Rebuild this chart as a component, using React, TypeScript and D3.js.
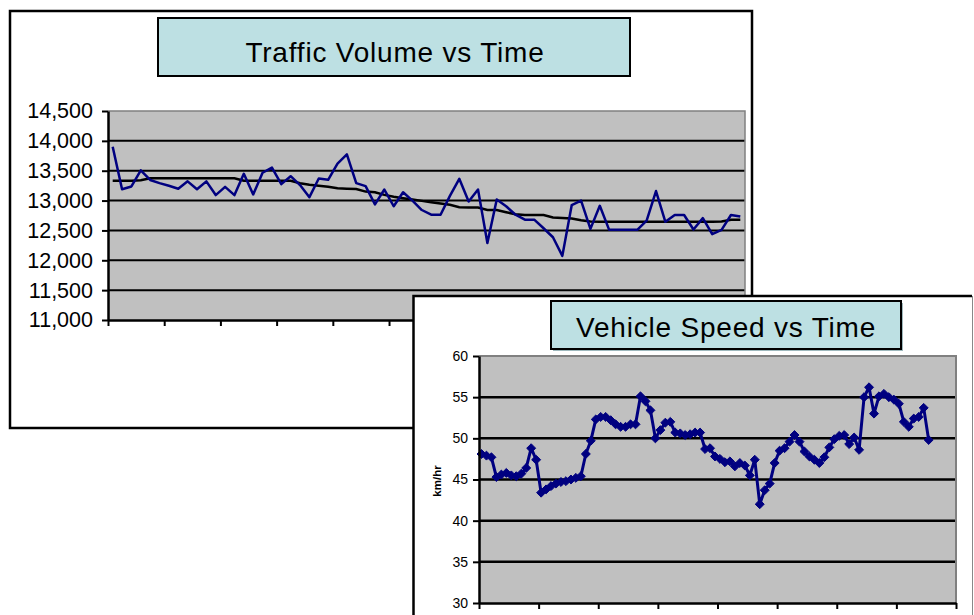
import React, { useEffect, useRef } from 'react';
import * as d3 from 'd3';

// traffic volume chart
const volumeTitle = 'Traffic Volume vs Time';
const volumeTicks = [11000, 11500, 12000, 12500, 13000, 13500, 14000, 14500];
const volumeValues = [
  13900, 13190, 13236, 13506, 13345, 13293, 13247, 13198, 13322, 13190,
  13322, 13092, 13230, 13092, 13448, 13103, 13466, 13552, 13276, 13408,
  13259, 13057, 13370, 13348, 13619, 13773, 13292, 13242, 12937, 13185,
  12905, 13140, 13000, 12842, 12763, 12763, 13079, 13365, 12984, 13185,
  12290, 13017, 12905, 12763, 12680, 12680, 12536, 12386, 12074, 12923,
  13000, 12526, 12912, 12510, 12510, 12510, 12510, 12665, 13160, 12644,
  12758, 12758, 12515, 12706, 12438, 12510, 12758, 12732,
];
const volumeTrend = [
  13333, 13333, 13333, 13340, 13374, 13374, 13374, 13374, 13374, 13374,
  13374, 13374, 13374, 13374, 13333, 13333, 13333, 13333, 13333, 13333,
  13290, 13265, 13250, 13230, 13205, 13200, 13195, 13150, 13140, 13095,
  13065, 13040, 13017, 12995, 12970, 12950, 12930, 12890, 12883, 12883,
  12842, 12842, 12805, 12770, 12760, 12760, 12758, 12716, 12710, 12700,
  12670, 12650, 12645, 12645, 12645, 12645, 12645, 12645, 12645, 12645,
  12645, 12645, 12645, 12645, 12645, 12650, 12680, 12680,
];
const volumeTickEvery = 6;

// vehicle speed chart
const speedTitle = 'Vehicle Speed vs Time';
const speedUnit = 'km/hr';
const speedTicks = [30, 35, 40, 45, 50, 55, 60];
const speedValues = [
  48.1, 47.9, 47.7, 45.3, 45.6, 45.8, 45.5, 45.4, 45.7, 46.4,
  48.8, 47.4, 43.4, 43.8, 44.2, 44.5, 44.7, 44.8, 45.0, 45.2,
  45.4, 48.1, 49.7, 52.3, 52.6, 52.6, 52.2, 51.7, 51.4, 51.4,
  51.7, 51.7, 55.1, 54.5, 53.4, 50.0, 51.0, 51.9, 52.0, 50.7,
  50.6, 50.4, 50.5, 50.7, 50.7, 48.7, 48.8, 47.8, 47.5, 47.1,
  47.2, 46.6, 47.0, 46.7, 45.5, 47.4, 42.0, 43.7, 44.5, 47.0,
  48.5, 48.8, 49.6, 50.4, 49.6, 48.4, 47.8, 47.4, 47.0, 47.7,
  48.9, 49.9, 50.3, 50.4, 49.3, 50.1, 48.6, 55.0, 56.2, 53.0,
  55.1, 55.4, 55.0, 54.7, 54.2, 52.0, 51.4, 52.4, 52.6, 53.7,
  49.8,
];
const speedSlots = 96;
const speedTickEvery = 12;

const FONT = '"Liberation Sans", Arial, sans-serif';
const NAVY = '#000080';
const PLOT_FILL = '#c0c0c0';
const TITLE_FILL = '#bde0e3';

// Excel style diamond (square turned 45 degrees)
const diamond = {
  draw(ctx, size) {
    const r = Math.sqrt(size / 2);
    ctx.moveTo(0, -r);
    ctx.lineTo(r, 0);
    ctx.lineTo(0, r);
    ctx.lineTo(-r, 0);
    ctx.closePath();
  },
};

function styleAxis(g, fontSize) {
  g.attr('font-family', FONT).attr('font-size', fontSize);
  g.select('.domain').attr('stroke', '#000').attr('stroke-width', 2.5);
  g.selectAll('.tick line').attr('stroke', '#000').attr('stroke-width', 2);
  g.selectAll('.tick text').attr('fill', '#000');
}

export default function App() {
  const ref = useRef<SVGSVGElement>(null);

  useEffect(() => {
    if (!ref.current) return;
    const svg = d3.select(ref.current);
    svg.selectAll('*').remove();

    // ---------- panel 1 : traffic volume ----------
    const p1 = svg.append('g');
    p1.append('rect')
      .attr('x', 10).attr('y', 11).attr('width', 742).attr('height', 417)
      .attr('fill', '#fff').attr('stroke', '#000').attr('stroke-width', 2.5);

    p1.append('rect')
      .attr('x', 158).attr('y', 18).attr('width', 472).attr('height', 58)
      .attr('fill', TITLE_FILL).attr('stroke', '#000').attr('stroke-width', 2);
    p1.append('text')
      .attr('x', 395).attr('y', 62)
      .attr('text-anchor', 'middle')
      .attr('font-family', FONT).attr('font-size', 28)
      .attr('letter-spacing', 0.8)
      .text(volumeTitle);

    const v = { left: 108, right: 745, top: 111, bottom: 320 };
    const vx = d3.scaleLinear().domain([0, volumeValues.length]).range([v.left, v.right]);
    const vy = d3.scaleLinear().domain([11000, 14500]).range([v.bottom, v.top]);

    p1.append('rect')
      .attr('x', v.left).attr('y', v.top)
      .attr('width', v.right - v.left).attr('height', v.bottom - v.top)
      .attr('fill', PLOT_FILL);

    p1.append('g').selectAll('line')
      .data(volumeTicks.slice(1, -1))
      .join('line')
      .attr('x1', v.left).attr('x2', v.right)
      .attr('y1', d => vy(d)).attr('y2', d => vy(d))
      .attr('stroke', '#000').attr('stroke-width', 2);

    p1.append('path')
      .attr('d', `M${v.left},${v.top}H${v.right}V${v.bottom}`)
      .attr('fill', 'none').attr('stroke', '#808080').attr('stroke-width', 1.5);

    const vLine = d3.line<number>()
      .x((d, i) => vx(i + 0.5))
      .y(d => vy(d));

    p1.append('path')
      .datum(volumeTrend)
      .attr('fill', 'none').attr('stroke', '#000').attr('stroke-width', 2.5)
      .attr('d', vLine);

    p1.append('path')
      .datum(volumeValues)
      .attr('fill', 'none').attr('stroke', NAVY).attr('stroke-width', 2.5)
      .attr('stroke-linejoin', 'round')
      .attr('d', vLine);

    const vyAxis = d3.axisLeft(vy)
      .tickValues(volumeTicks)
      .tickFormat(d3.format(','))
      .tickSizeInner(6).tickSizeOuter(0).tickPadding(9);
    p1.append('g')
      .attr('transform', `translate(${v.left},0)`)
      .call(vyAxis)
      .call(g => styleAxis(g, 21.5));

    const vxAxis = d3.axisBottom(vx)
      .tickValues(d3.range(0, volumeValues.length + 1, volumeTickEvery))
      .tickFormat(() => '')
      .tickSizeInner(6).tickSizeOuter(0);
    p1.append('g')
      .attr('transform', `translate(0,${v.bottom})`)
      .call(vxAxis)
      .call(g => styleAxis(g, 21));

    // ---------- panel 2 : vehicle speed ----------
    const p2 = svg.append('g');
    p2.append('rect')
      .attr('x', 413.5).attr('y', 296).attr('width', 559).attr('height', 340)
      .attr('fill', '#fff');
    p2.append('path')
      .attr('d', 'M413.5,640V296H972')
      .attr('fill', 'none').attr('stroke', '#000').attr('stroke-width', 2.5);
    p2.append('line')
      .attr('x1', 972.5).attr('x2', 972.5).attr('y1', 296).attr('y2', 640)
      .attr('stroke', '#888').attr('stroke-width', 1);

    p2.append('rect')
      .attr('x', 553).attr('y', 303).attr('width', 350).attr('height', 48)
      .attr('fill', '#9fb9bd');
    p2.append('rect')
      .attr('x', 551).attr('y', 301).attr('width', 350).attr('height', 48)
      .attr('fill', TITLE_FILL).attr('stroke', '#000').attr('stroke-width', 2);
    p2.append('text')
      .attr('x', 726).attr('y', 337)
      .attr('text-anchor', 'middle')
      .attr('font-family', FONT).attr('font-size', 28)
      .attr('letter-spacing', 0.8)
      .text(speedTitle);

    const s = { left: 479, right: 956, top: 356, bottom: 603 };
    const sx = d3.scaleLinear().domain([0, speedSlots]).range([s.left, s.right]);
    const sy = d3.scaleLinear().domain([30, 60]).range([s.bottom, s.top]);

    p2.append('rect')
      .attr('x', s.left).attr('y', s.top)
      .attr('width', s.right - s.left).attr('height', s.bottom - s.top)
      .attr('fill', PLOT_FILL);

    p2.append('g').selectAll('line')
      .data(speedTicks.slice(1, -1))
      .join('line')
      .attr('x1', s.left).attr('x2', s.right)
      .attr('y1', d => sy(d)).attr('y2', d => sy(d))
      .attr('stroke', '#000').attr('stroke-width', 2.5);

    p2.append('path')
      .attr('d', `M${s.left},${s.top}H${s.right}V${s.bottom}`)
      .attr('fill', 'none').attr('stroke', '#808080').attr('stroke-width', 2);

    p2.append('path')
      .datum(speedValues)
      .attr('fill', 'none').attr('stroke', NAVY).attr('stroke-width', 3)
      .attr('stroke-linejoin', 'round')
      .attr('d', d3.line<number>().x((d, i) => sx(i + 0.5)).y(d => sy(d)));

    const marker = d3.symbol().type(diamond).size(40);
    p2.append('g').selectAll('path')
      .data(speedValues)
      .join('path')
      .attr('transform', (d, i) => `translate(${sx(i + 0.5)},${sy(d)})`)
      .attr('d', marker)
      .attr('fill', NAVY).attr('stroke', NAVY).attr('stroke-width', 1);

    const syAxis = d3.axisLeft(sy)
      .tickValues(speedTicks)
      .tickSizeInner(6).tickSizeOuter(0).tickPadding(5);
    p2.append('g')
      .attr('transform', `translate(${s.left},0)`)
      .call(syAxis)
      .call(g => styleAxis(g, 14));

    const sxAxis = d3.axisBottom(sx)
      .tickValues(d3.range(0, speedSlots + 1, speedTickEvery))
      .tickFormat(() => '')
      .tickSizeInner(6).tickSizeOuter(0);
    p2.append('g')
      .attr('transform', `translate(0,${s.bottom})`)
      .call(sxAxis)
      .call(g => styleAxis(g, 14));

    p2.append('text')
      .attr('transform', `translate(437,481) rotate(-90)`)
      .attr('text-anchor', 'middle')
      .attr('dominant-baseline', 'central')
      .attr('font-family', FONT).attr('font-size', 11.5).attr('font-weight', 'bold')
      .text(speedUnit);
  }, []);

  return (
    <svg
      ref={ref}
      width={974}
      height={615}
      style={{ position: 'absolute', left: 0, top: 0, background: '#fff' }}
    />
  );
}
